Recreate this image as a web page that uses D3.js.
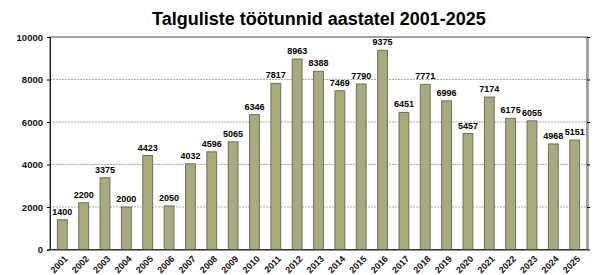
<!DOCTYPE html>
<html><head><meta charset="utf-8">
<script src="https://cdn.jsdelivr.net/npm/d3@7"></script>
<style>body{margin:0;background:#fff}svg{display:block;font-family:"Liberation Sans",Arial,sans-serif}</style>
</head><body><svg id="c" width="600" height="275"></svg>
<script>
const years = ["2001","2002","2003","2004","2005","2006","2007","2008","2009","2010","2011","2012","2013","2014","2015","2016","2017","2018","2019","2020","2021","2022","2023","2024","2025"];
const hours = [1400,2200,3375,2000,4423,2050,4032,4596,5065,6346,7817,8963,8388,7469,7790,9375,6451,7771,6996,5457,7174,6175,6055,4968,5151];
const yTicks = [0,2000,4000,6000,8000,10000];
const title = "Talguliste töötunnid aastatel 2001-2025";

const svg = d3.select("#c");
const L=50,R=587,T=37,B=249.5;
const x = d3.scaleBand().domain(years).range([L+1,R-1]).paddingInner(0.54).paddingOuter(0.3);
const y = d3.scaleLinear().domain([0,10000]).range([B,T]);

svg.append("text").attr("x",319).attr("y",25).attr("text-anchor","middle")
  .attr("font-size",18).attr("font-weight","bold").text(title);

// grid
svg.append("g").selectAll("line").data(yTicks.filter(d=>d>0&&d<10000)).join("line")
  .attr("x1",L).attr("x2",R).attr("y1",d=>y(d)).attr("y2",d=>y(d))
  .attr("stroke","#aaa").attr("stroke-width",1).attr("stroke-dasharray","2,1");

// frame
svg.append("rect").attr("x",L).attr("y",T).attr("width",R-L).attr("height",B-T)
  .attr("fill","none").attr("stroke","#444").attr("stroke-width",1);
svg.append("line").attr("x1",R+1).attr("x2",R+1).attr("y1",T+1).attr("y2",B+1).attr("stroke","#999").attr("stroke-width",1.5);

// left axis
const ya = svg.append("g").attr("transform",`translate(${L},0)`)
  .call(d3.axisLeft(y).tickValues(yTicks).tickSize(3).tickPadding(4).tickFormat(d3.format("d")));
ya.select(".domain").attr("stroke","#222");
ya.selectAll("text").attr("font-size",9.5).attr("font-weight","bold").attr("font-family","Liberation Sans, Arial, sans-serif").attr("fill","#111");
// right ticks
const yr = svg.append("g").attr("transform",`translate(${R},0)`)
  .call(d3.axisRight(y).tickValues(yTicks).tickSize(3).tickFormat(""));
yr.select(".domain").remove();

// bars
svg.append("g").selectAll("rect").data(years).join("rect")
  .attr("x",d=>x(d)).attr("width",x.bandwidth())
  .attr("y",(d,i)=>y(hours[i])).attr("height",(d,i)=>B-y(hours[i]))
  .attr("fill","#a9ab7d").attr("stroke","#6e6e5e").attr("stroke-width",1);

// value labels
svg.append("g").selectAll("text").data(years).join("text")
  .attr("x",d=>x(d)+x.bandwidth()/2).attr("y",(d,i)=>y(hours[i])-5)
  .attr("text-anchor","middle").attr("font-size",9).attr("font-weight","bold")
  .text((d,i)=>hours[i]);

// bottom axis
const xa = svg.append("g").attr("transform",`translate(0,${B})`)
  .call(d3.axisBottom(x).tickSize(0).tickPadding(0));
xa.select(".domain").attr("stroke","#222");
xa.selectAll("text").attr("font-size",9).attr("font-weight","bold").attr("font-family","Liberation Sans, Arial, sans-serif")
  .attr("fill","#111").attr("text-anchor","end").attr("dy",0)
  .attr("transform","translate(6,10) rotate(-45)");
</script></body></html>
